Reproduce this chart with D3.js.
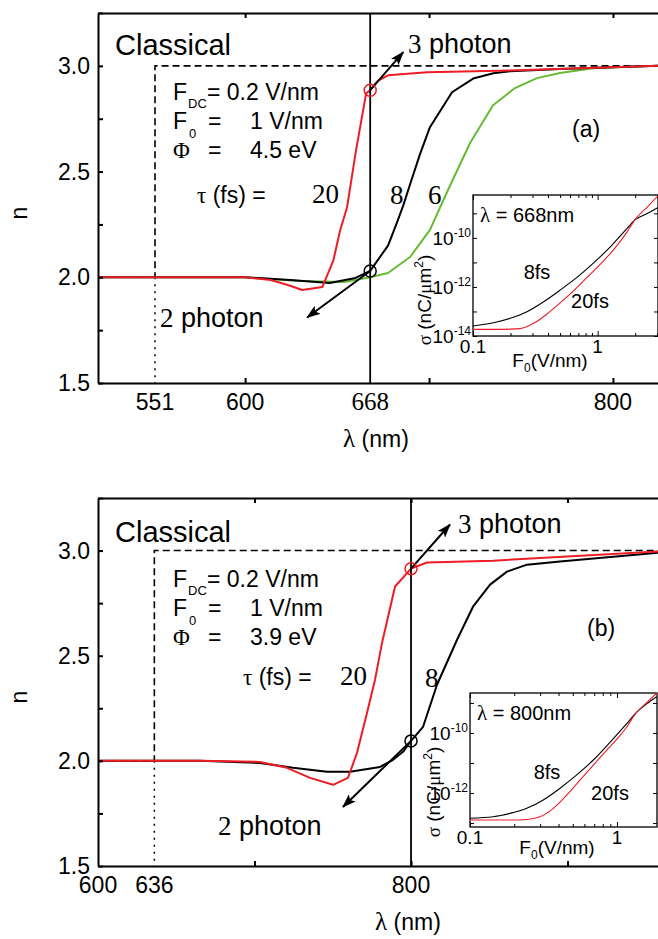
<!DOCTYPE html>
<html>
<head>
<meta charset="utf-8">
<script src="https://cdn.jsdelivr.net/npm/d3@7"></script>
<style>
body { margin: 0; background: #fff; }
svg { display: block; }
text { font-family: "Liberation Sans", Arial, sans-serif; fill: #000; }
.serif { font-family: "Liberation Serif", "Times New Roman", serif; }
</style>
</head>
<body>
<script>

// ---------- panel (a) : n vs lambda, Phi = 4.5 eV ----------
const aClassLam = [520, 551, 551, 824.5];
const aClassN   = [2, 2, 3, 3];
const aLam20 = [520, 575, 600, 614, 624.5, 631, 642, 648, 651.6, 655.4, 660.3, 665.8, 668, 672.3, 677.7, 699, 753, 824.5];
const aN20   = [2.0, 2.0, 2.0, 1.987, 1.96, 1.94, 1.954, 2.08, 2.22, 2.33, 2.60, 2.87, 2.885, 2.93, 2.955, 2.97, 2.98, 3.0];
const aLam8  = [520, 575, 600, 624.5, 646, 660, 668, 677.7, 682.6, 686, 689.7, 695, 700.5, 712.5, 724, 735, 744, 771, 824.5];
const aN8    = [2.0, 2.0, 2.0, 1.987, 1.973, 1.997, 2.03, 2.15, 2.26, 2.34, 2.44, 2.58, 2.71, 2.875, 2.94, 2.965, 2.975, 2.985, 3.0];
const aLam6  = [520, 600, 630, 654, 668, 677.7, 689.7, 700.5, 710.3, 722.3, 734.8, 746.7, 758.7, 771.2, 789.1, 824.5];
const aN6    = [2.0, 2.0, 1.982, 1.978, 2.0, 2.02, 2.096, 2.224, 2.413, 2.635, 2.814, 2.895, 2.942, 2.966, 2.989, 3.0];
const aTicks = [600, 700, 800];
const aLabels = [551, 600, 668, 800];

// inset (a), lambda = 668 nm
const iaF8  = [0.1, 0.146, 0.199, 0.271, 0.369, 0.503, 0.686, 0.933, 1.27, 1.73, 1.99, 2.52, 3.03];
const iaS8  = [2.57e-14, 3.47e-14, 5.25e-14, 9.8e-14, 2.5e-13, 7.6e-13, 2.5e-12, 9.8e-12, 4.4e-11, 2.5e-10, 5.4e-10, 1.0e-9, 1.7e-9];
const iaF20 = [0.1, 0.146, 0.199, 0.239, 0.307, 0.393, 0.503, 0.644, 0.826, 1.057, 1.355, 1.73, 1.99, 2.52, 3.03];
const iaS20 = [1.86e-14, 1.86e-14, 1.9e-14, 2.0e-14, 3.3e-14, 7.9e-14, 2.3e-13, 7.1e-13, 2.5e-12, 8.7e-12, 3.5e-11, 1.8e-10, 5.4e-10, 1.9e-9, 4.9e-9];

// ---------- panel (b) : n vs lambda, Phi = 3.9 eV ----------
const bClassLam = [600, 636, 636, 957.8];
const bClassN   = [2, 2, 3, 3];
const bLam20 = [600, 665, 703.5, 720.8, 735.5, 750.2, 759.7, 765.5, 771.9, 777, 781.5, 789.8, 800, 810.2, 852.4, 957.8];
const bN20   = [2.0, 2.0, 1.995, 1.967, 1.919, 1.886, 1.919, 2.038, 2.229, 2.386, 2.562, 2.829, 2.914, 2.943, 2.952, 2.995];
const bLam8  = [600, 665, 703.5, 724.6, 746.3, 761, 780.2, 788.5, 794.9, 800, 807.7, 816.6, 829.4, 839.6, 850.5, 861.3, 874.1, 895.2, 957.8];
const bN8    = [2.0, 2.0, 1.99, 1.967, 1.948, 1.948, 1.971, 2.005, 2.043, 2.095, 2.162, 2.362, 2.576, 2.733, 2.838, 2.9, 2.933, 2.948, 2.99];
const bTicks = [700, 800, 900];
const bLabels = [600, 636, 800];

// inset (b), lambda = 800 nm
const ibF8  = [0.1, 0.144, 0.187, 0.243, 0.315, 0.410, 0.532, 0.690, 0.896, 1.16, 1.36, 1.59, 1.86];
const ibS8  = [1.45e-13, 1.62e-13, 2.1e-13, 3.1e-13, 5.9e-13, 1.45e-12, 4.0e-12, 1.26e-11, 4.9e-11, 2.0e-10, 4.9e-10, 9.3e-10, 1.6e-9];
const ibF20 = [0.1, 0.187, 0.243, 0.299, 0.369, 0.455, 0.560, 0.690, 0.851, 1.047, 1.16, 1.36, 1.59, 1.86];
const ibS20 = [1.26e-13, 1.26e-13, 1.32e-13, 1.62e-13, 3.1e-13, 8.5e-13, 2.7e-12, 8.5e-12, 2.7e-11, 8.1e-11, 1.55e-10, 4.9e-10, 1.02e-9, 2.1e-9];

const nTicks = [1.5, 1.75, 2.0, 2.25, 2.5, 2.75, 3.0, 3.25];
const nLabels = [1.5, 2.0, 2.5, 3.0];

const RED = '#ee1c25', GREEN = '#66bb33';
const W = 658, H = 939, L = 98, R = 658;

const svg = d3.select('body').append('svg').attr('width', W).attr('height', H);
const defs = svg.append('defs');
defs.append('marker')
	.attr('id', 'arrow')
	.attr('viewBox', '0 0 14 10')
	.attr('refX', 13).attr('refY', 5)
	.attr('markerWidth', 14).attr('markerHeight', 10)
	.attr('markerUnits', 'userSpaceOnUse')
	.attr('orient', 'auto')
	.append('path')
	.attr('d', 'M0,0 L14,5 L0,10 L3,5 Z')
	.attr('fill', '#000');

function txt(g, x, y, str, size, opt = {}) {
	const t = g.append('text').attr('x', x).attr('y', y).attr('font-size', size).text(str);
	if (opt.serif) t.attr('class', 'serif');
	if (opt.anchor) t.attr('text-anchor', opt.anchor);
	return t;
}

function drawPanel(p) {
	const x = d3.scaleLinear().domain(p.xDomain).range([L, R]);
	const y = d3.scaleLinear().domain([1.5, 3.25]).range([p.bottom, p.top]);
	const g = svg.append('g');

	defs.append('clipPath').attr('id', 'clip' + p.id)
		.append('rect')
		.attr('x', L).attr('y', p.top)
		.attr('width', R - L).attr('height', p.bottom - p.top);
	const plot = g.append('g').attr('clip-path', `url(#clip${p.id})`);

	const line = d3.line().x(d => x(d[0])).y(d => y(d[1]));

	// classical step
	plot.append('path')
		.datum(d3.zip(p.classLam, p.classN))
		.attr('d', line)
		.attr('fill', 'none').attr('stroke', '#000')
		.attr('stroke-width', 1.6).attr('stroke-dasharray', '7,4');
	plot.append('line')
		.attr('x1', x(p.classLam[1])).attr('x2', x(p.classLam[1]))
		.attr('y1', y(2)).attr('y2', y(1.5))
		.attr('stroke', '#000').attr('stroke-width', 1.5).attr('stroke-dasharray', '2,5');

	p.series.forEach(s => {
		plot.append('path')
			.datum(d3.zip(s.lam, s.n))
			.attr('d', line)
			.attr('fill', 'none')
			.attr('stroke', s.color)
			.attr('stroke-width', 2)
			.attr('stroke-linejoin', 'round');
	});

	// wavelength marker line
	plot.append('line')
		.attr('x1', x(p.mark)).attr('x2', x(p.mark))
		.attr('y1', p.top).attr('y2', p.bottom)
		.attr('stroke', '#000').attr('stroke-width', 1.8);

	// circles + arrows
	p.points.forEach(pt => {
		g.append('line')
			.attr('x1', x(p.mark)).attr('y1', y(pt.n))
			.attr('x2', x(pt.to[0])).attr('y2', y(pt.to[1]))
			.attr('stroke', '#000').attr('stroke-width', 2)
			.attr('marker-end', 'url(#arrow)');
		g.append('circle')
			.attr('cx', x(p.mark)).attr('cy', y(pt.n)).attr('r', 6)
			.attr('fill', 'none').attr('stroke', pt.color).attr('stroke-width', 1.5);
	});

	// axes
	const axStyle = a => {
		a.selectAll('path, line').attr('stroke', '#000').attr('stroke-width', 2);
		a.selectAll('text').remove();
	};
	g.append('g').attr('transform', `translate(0,${p.bottom})`)
		.call(d3.axisBottom(x).tickValues(p.ticks).tickSize(-5).tickSizeOuter(0)).call(axStyle);
	g.append('g').attr('transform', `translate(0,${p.top})`)
		.call(d3.axisTop(x).tickValues(p.ticks).tickSize(-5).tickSizeOuter(0)).call(axStyle);
	g.append('g').attr('transform', `translate(${L},0)`)
		.call(d3.axisLeft(y).tickValues(nTicks).tickSize(-5).tickSizeOuter(0)).call(axStyle);

	g.selectAll('.ylab').data(nLabels).enter().append('text')
		.attr('x', L - 8).attr('y', d => y(d) + 8)
		.attr('text-anchor', 'end').attr('font-size', 23)
		.text(d => d.toFixed(1));
	g.selectAll('.xlab').data(p.labels).enter().append('text')
		.attr('class', d => d === p.mark && p.id === 'a' ? 'serif' : null)
		.attr('x', d => x(d)).attr('y', p.bottom + 27)
		.attr('text-anchor', 'middle').attr('font-size', d => d === p.mark && p.id === 'a' ? 25 : 23)
		.text(d => d);

	const xl = g.append('text').attr('x', p.xlabX).attr('y', p.bottom + 64)
		.attr('text-anchor', 'middle').attr('font-size', 23);
	xl.append('tspan').attr('class', 'serif').attr('font-size', 25).text('λ');
	xl.append('tspan').text(' (nm)');
	g.append('text')
		.attr('transform', `translate(27,${(p.top + p.bottom) / 2 + 15}) rotate(-90)`)
		.attr('text-anchor', 'middle').attr('font-size', 23).text('n');

	return { g, x, y };
}

function drawInset(c) {
	const x = d3.scaleLog().domain(c.xDomain).range([c.left, c.right]);
	const y = d3.scaleLog().domain(c.yDomain).range([c.bottom, c.top]);
	const g = svg.append('g');
	g.append('rect')
		.attr('x', c.left).attr('y', c.top)
		.attr('width', c.right - c.left).attr('height', c.bottom - c.top)
		.attr('fill', '#fff').attr('stroke', '#000').attr('stroke-width', 1.3);

	defs.append('clipPath').attr('id', 'iclip' + c.id)
		.append('rect')
		.attr('x', c.left).attr('y', c.top)
		.attr('width', c.right - c.left).attr('height', c.bottom - c.top);

	const fMinor = [0.1, 0.2, 0.3, 0.4, 0.5, 0.6, 0.7, 0.8, 0.9, 1, 2, 3].filter(v => v <= c.xDomain[1]);
	const decades = d3.range(-14, -7).map(e => Math.pow(10, e))
		.filter(v => v >= c.yDomain[0] && v <= c.yDomain[1]);
	const clean = a => {
		a.select('.domain').remove();
		a.selectAll('text').remove();
		a.selectAll('line').attr('stroke', '#000').attr('stroke-width', 1);
	};
	const tick = d => (d === 0.1 || d === 1) ? 5 : 3;
	g.append('g').attr('transform', `translate(0,${c.bottom})`)
		.call(d3.axisBottom(x).tickValues(fMinor).tickSize(-3)).call(clean)
		.selectAll('.tick line').attr('y2', d => -tick(d));
	g.append('g').attr('transform', `translate(0,${c.top})`)
		.call(d3.axisTop(x).tickValues(fMinor).tickSize(-3)).call(clean)
		.selectAll('.tick line').attr('y2', d => tick(d));
	g.append('g').attr('transform', `translate(${c.left},0)`)
		.call(d3.axisLeft(y).tickValues(decades).tickSize(-4)).call(clean);
	g.append('g').attr('transform', `translate(${c.right},0)`)
		.call(d3.axisRight(y).tickValues(decades).tickSize(-4)).call(clean);

	const line = d3.line().x(d => x(d[0])).y(d => y(d[1])).curve(d3.curveMonotoneX);
	const plot = g.append('g').attr('clip-path', `url(#iclip${c.id})`);
	c.series.forEach(s => {
		plot.append('path')
			.datum(d3.zip(s.f, s.s))
			.attr('d', line)
			.attr('fill', 'none').attr('stroke', s.color).attr('stroke-width', 1.1);
	});

	// y tick labels
	c.yLabels.forEach(e => {
		const t = g.append('text')
			.attr('x', c.left - 2).attr('y', y(Math.pow(10, e)) + 7)
			.attr('text-anchor', 'end').attr('font-size', 19);
		t.append('tspan').text('10');
		t.append('tspan').attr('font-size', 12).attr('dy', -8).text(String(e));
	});
	// x tick labels
	[0.1, 1].forEach(v => {
		txt(g, x(v), c.bottom + c.xlabDy, v === 1 ? '1' : '0.1', 19, { anchor: 'middle' });
	});
	const fl = g.append('text').attr('x', c.fx).attr('y', c.bottom + c.fDy).attr('font-size', 19).attr('text-anchor', 'middle');
	fl.append('tspan').text('F');
	fl.append('tspan').attr('font-size', 12).attr('dy', 5).text('0');
	fl.append('tspan').attr('dy', -5).text('(V/nm)');

	const sl = g.append('text')
		.attr('transform', `translate(${c.sx},${c.sy}) rotate(-90)`)
		.attr('text-anchor', 'middle').attr('font-size', 19);
	sl.append('tspan').attr('class', 'serif').text('σ');
	sl.append('tspan').text(' (nC/');
	sl.append('tspan').attr('class', 'serif').text('μ');
	sl.append('tspan').text('m');
	sl.append('tspan').attr('font-size', 12).attr('dy', -8).text('2');
	sl.append('tspan').attr('dy', 8).text(')');

	const ll = g.append('text').attr('x', c.left + 7).attr('y', c.top + 27).attr('font-size', 20);
	ll.append('tspan').attr('class', 'serif').attr('font-size', 21).text('λ');
	ll.append('tspan').text(' = ' + c.lambda + 'nm');

	txt(g, c.l8[0], c.l8[1], '8fs', 20, { anchor: 'middle' });
	txt(g, c.l20[0], c.l20[1], '20fs', 20, { anchor: 'middle' });
}

// block of parameter text
function params(g, y0, phi) {
	txt(g, 115, y0, 'Classical', 29);
	txt(g, 173, y0 + 45, 'F', 23);
	txt(g, 188, y0 + 53, 'DC', 13);
	txt(g, 207, y0 + 45, '= 0.2 V/nm', 23);
	txt(g, 173, y0 + 74, 'F', 23);
	txt(g, 189, y0 + 83, '0', 13);
	txt(g, 208, y0 + 74, '=', 23);
	txt(g, 250, y0 + 74, '1 V/nm', 23);
	txt(g, 173, y0 + 103, 'Φ', 23, { serif: true });
	txt(g, 208, y0 + 103, '=', 23);
	txt(g, 250, y0 + 103, phi, 23);
}

function photon(g, x, y, num) {
	txt(g, x, y, num, 27, { serif: true });
	txt(g, x + 21, y, 'photon', 27);
}

// ---- panel (a)
const pa = drawPanel({
	id: 'a', top: 13, bottom: 383, xDomain: [520, 824.5],
	classLam: aClassLam, classN: aClassN, mark: 668,
	ticks: aTicks, labels: aLabels, xlabX: 376,
	series: [
		{ lam: aLam6, n: aN6, color: GREEN },
		{ lam: aLam8, n: aN8, color: '#000' },
		{ lam: aLam20, n: aN20, color: RED }
	],
	points: [
		{ n: 2.885, color: RED, to: [686, 3.065] },
		{ n: 2.03, color: '#000', to: [633.7, 1.81] }
	]
});
params(pa.g, 55, '4.5 eV');
{
	const t = pa.g.append('text').attr('x', 197).attr('y', 203).attr('font-size', 23);
	t.append('tspan').attr('class', 'serif').text('τ');
	t.append('tspan').text(' (fs) =');
	txt(pa.g, 312, 203, '20', 27, { serif: true });
	txt(pa.g, 390, 204, '8', 27, { serif: true });
	txt(pa.g, 428, 204, '6', 27, { serif: true });
	txt(pa.g, 572, 137, '(a)', 23);
	photon(pa.g, 408, 53, '3');
	photon(pa.g, 160, 327, '2');
}
drawInset({
	id: 'a', left: 473, right: 658, top: 195, bottom: 336,
	xDomain: [0.1, 3.05], yDomain: [1e-14, 5.6e-9],
	yLabels: [-10, -12, -14], xlabDy: 17, fDy: 31, fx: 550, sx: 431, sy: 300,
	lambda: 668, l8: [537, 279], l20: [590, 308],
	series: [
		{ f: iaF8, s: iaS8, color: '#000' },
		{ f: iaF20, s: iaS20, color: RED }
	]
});

// ---- panel (b)
const pb = drawPanel({
	id: 'b', top: 498, bottom: 866, xDomain: [600, 957.8],
	classLam: bClassLam, classN: bClassN, mark: 800,
	ticks: bTicks, labels: bLabels, xlabX: 408,
	series: [
		{ lam: bLam8, n: bN8, color: '#000' },
		{ lam: bLam20, n: bN20, color: RED }
	],
	points: [
		{ n: 2.914, color: RED, to: [824.9, 3.124] },
		{ n: 2.095, color: '#000', to: [756.5, 1.781] }
	]
});
params(pb.g, 542, '3.9 eV');
{
	const t = pb.g.append('text').attr('x', 243).attr('y', 685).attr('font-size', 23);
	t.append('tspan').attr('class', 'serif').text('τ');
	t.append('tspan').text(' (fs) =');
	txt(pb.g, 340, 685, '20', 27, { serif: true });
	txt(pb.g, 425, 687, '8', 27, { serif: true });
	txt(pb.g, 587, 636, '(b)', 23);
	photon(pb.g, 458, 533, '3');
	photon(pb.g, 218, 835, '2');
}
drawInset({
	id: 'b', left: 470, right: 657, top: 693, bottom: 827,
	xDomain: [0.1, 1.87], yDomain: [7.4e-14, 2.14e-9],
	yLabels: [-10, -12], xlabDy: 17, fDy: 27, fx: 557, sx: 440, sy: 792,
	lambda: 800, l8: [547, 779], l20: [610, 800],
	series: [
		{ f: ibF8, s: ibS8, color: '#000' },
		{ f: ibF20, s: ibS20, color: RED }
	]
});

</script>
</body>
</html>
